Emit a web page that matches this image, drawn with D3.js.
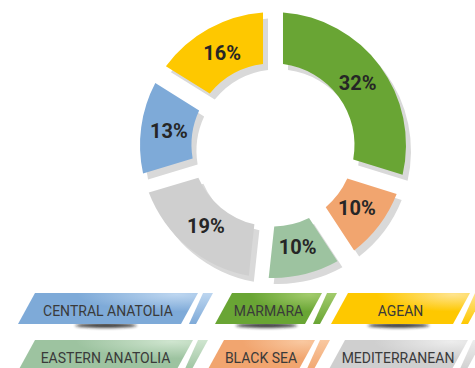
<!DOCTYPE html>
<html>
<head>
<meta charset="utf-8">
<script src="https://cdn.jsdelivr.net/npm/d3@7"></script>
<style>
  html, body { margin: 0; padding: 0; background: #ffffff; }
  svg { display: block; }
</style>
</head>
<body>
<svg id="chart" width="475" height="368"></svg>
<script>
// ---- data ----
const categories = ["MARMARA", "BLACK SEA", "EASTERN ANATOLIA", "MEDITERRANEAN", "CENTRAL ANATOLIA", "AGEAN"];
const values = [32, 10, 10, 19, 13, 16];
const labels = ["32%", "10%", "10%", "19%", "13%", "16%"];
const legendRow1 = ["CENTRAL ANATOLIA", "MARMARA", "AGEAN"];
const legendRow2 = ["EASTERN ANATOLIA", "BLACK SEA", "MEDITERRANEAN"];

// ---- styles ----
const baseColors  = ["#69a534", "#f1a56f", "#9dc3a0", "#cfcfcf", "#7eaad8", "#fec800"];
const lightColors = ["#a2cb6c", "#f9c8a0", "#cfe5cf", "#ededed", "#bdd6f0", "#ffe48f"];
// highlight position per slice: [fraction along the slice angle, radius fraction 0=inner 1=outer]
const highlightPos = [[0.9, 0.9], [0.25, 0.9], [0.3, 0.3], [0.75, 0.2], [0.85, 0.35], [0.9, 0.9]];

const W = 475, H = 368;
const cx = 273, cy = 145;
const rIn = 81.5, rOut = 133;
const gap = 20;

const svg = d3.select("#chart");
const defs = svg.append("defs");

const color = d3.scaleOrdinal().domain(categories).range(baseColors);
const light = d3.scaleOrdinal().domain(categories).range(lightColors);

const pie = d3.pie().sort(null).value(d => d.value).startAngle(0).endAngle(2 * Math.PI).padAngle(gap / rOut);
const arc = d3.arc().innerRadius(rIn).outerRadius(rOut).padRadius(rOut);

const data = categories.map((c, i) => ({ name: c, value: values[i], label: labels[i], idx: i }));
const arcs = pie(data);

// gradients for slices
arcs.forEach((a, i) => {
  const hp = highlightPos[i];
  const ang = a.startAngle + (a.endAngle - a.startAngle) * hp[0];
  const rr = rIn + (rOut - rIn) * hp[1];
  const g = defs.append("radialGradient")
    .attr("id", "sg" + i)
    .attr("gradientUnits", "userSpaceOnUse")
    .attr("cx", cx + rr * Math.sin(ang))
    .attr("cy", cy - rr * Math.cos(ang))
    .attr("r", 75);
  g.append("stop").attr("offset", "0%").attr("stop-color", light(a.data.name));
  g.append("stop").attr("offset", "100%").attr("stop-color", color(a.data.name));
});

const gPie = svg.append("g").attr("transform", `translate(${cx},${cy})`);

// shadows
gPie.append("g").attr("transform", "translate(5,6)")
  .selectAll("path").data(arcs).join("path")
  .attr("d", arc)
  .attr("fill", "#d9d9d9");

// slices
gPie.append("g")
  .selectAll("path").data(arcs).join("path")
  .attr("d", arc)
  .attr("fill", (d, i) => `url(#sg${i})`);

// labels
const labelArc = d3.arc().innerRadius(105).outerRadius(105);
gPie.append("g")
  .selectAll("text").data(arcs).join("text")
  .attr("transform", d => `translate(${labelArc.centroid(d)})`)
  .attr("text-anchor", "middle")
  .attr("dy", "0.36em")
  .attr("font-family", "Roboto, 'DejaVu Sans', sans-serif")
  .attr("font-weight", 700)
  .attr("font-size", "20px")
  .attr("fill", "#262626")
  .text(d => d.data.label);

// ---- legend ----
const bannerH = 31, skew = 17;
const legendLayout = [
  { row: 0, items: legendRow1, x: [35, 232, 348], w: [163, 90, 122] },
  { row: 1, items: legendRow2, x: [35, 224, 345], w: [158, 91, 123] }
];
const rowTop = [293, 340];

// banner gradients
categories.forEach((c, i) => {
  const g = defs.append("radialGradient")
    .attr("id", "lg" + i)
    .attr("cx", 0.88).attr("cy", 0.05).attr("r", 0.55);
  g.append("stop").attr("offset", "0%").attr("stop-color", light(c));
  g.append("stop").attr("offset", "100%").attr("stop-color", color(c));
  const s = defs.append("linearGradient")
    .attr("id", "st" + i).attr("x1", 0).attr("y1", 0).attr("x2", 0).attr("y2", 1);
  s.append("stop").attr("offset", "0%").attr("stop-color", light(c));
  s.append("stop").attr("offset", "100%").attr("stop-color", color(c));
});
const blur = defs.append("filter").attr("id", "blur").attr("x", "-50%").attr("y", "-200%").attr("width", "200%").attr("height", "500%");
blur.append("feGaussianBlur").attr("stdDeviation", 1.4);

const gLeg = svg.append("g");
legendLayout.forEach(L => {
  const top = rowTop[L.row];
  L.items.forEach((name, k) => {
    const i = categories.indexOf(name);
    const x0 = L.x[k], w = L.w[k];
    const xr = x0 + w;
    const tcx = x0 + w / 2 - skew / 2;
    const g = gLeg.append("g");
    // drop shadow ellipse
    g.append("ellipse")
      .attr("cx", tcx - 2).attr("cy", top + bannerH + 1.5)
      .attr("rx", 31).attr("ry", 2.2)
      .attr("fill", "#1a1a1a").attr("opacity", 0.9)
      .attr("filter", "url(#blur)");
    // banner
    const pts = [[x0, top], [xr, top], [xr - skew, top + bannerH], [x0 - skew, top + bannerH]];
    g.append("path")
      .attr("d", d3.line()(pts) + "Z")
      .attr("fill", `url(#lg${i})`);
    // stripe
    const sp = [[xr + 5, top], [xr + 15, top], [xr - 2, top + bannerH], [xr - 9, top + bannerH]];
    g.append("path")
      .attr("d", d3.line()(sp) + "Z")
      .attr("fill", `url(#st${i})`);
    // text
    g.append("text")
      .attr("x", tcx).attr("y", top + 23)
      .attr("text-anchor", "middle")
      .attr("font-family", "Roboto, 'DejaVu Sans', sans-serif")
      .attr("font-size", "14px")
      .attr("fill", "#3a3a3a")
      .text(name);
  });
});
</script>
</body>
</html>
